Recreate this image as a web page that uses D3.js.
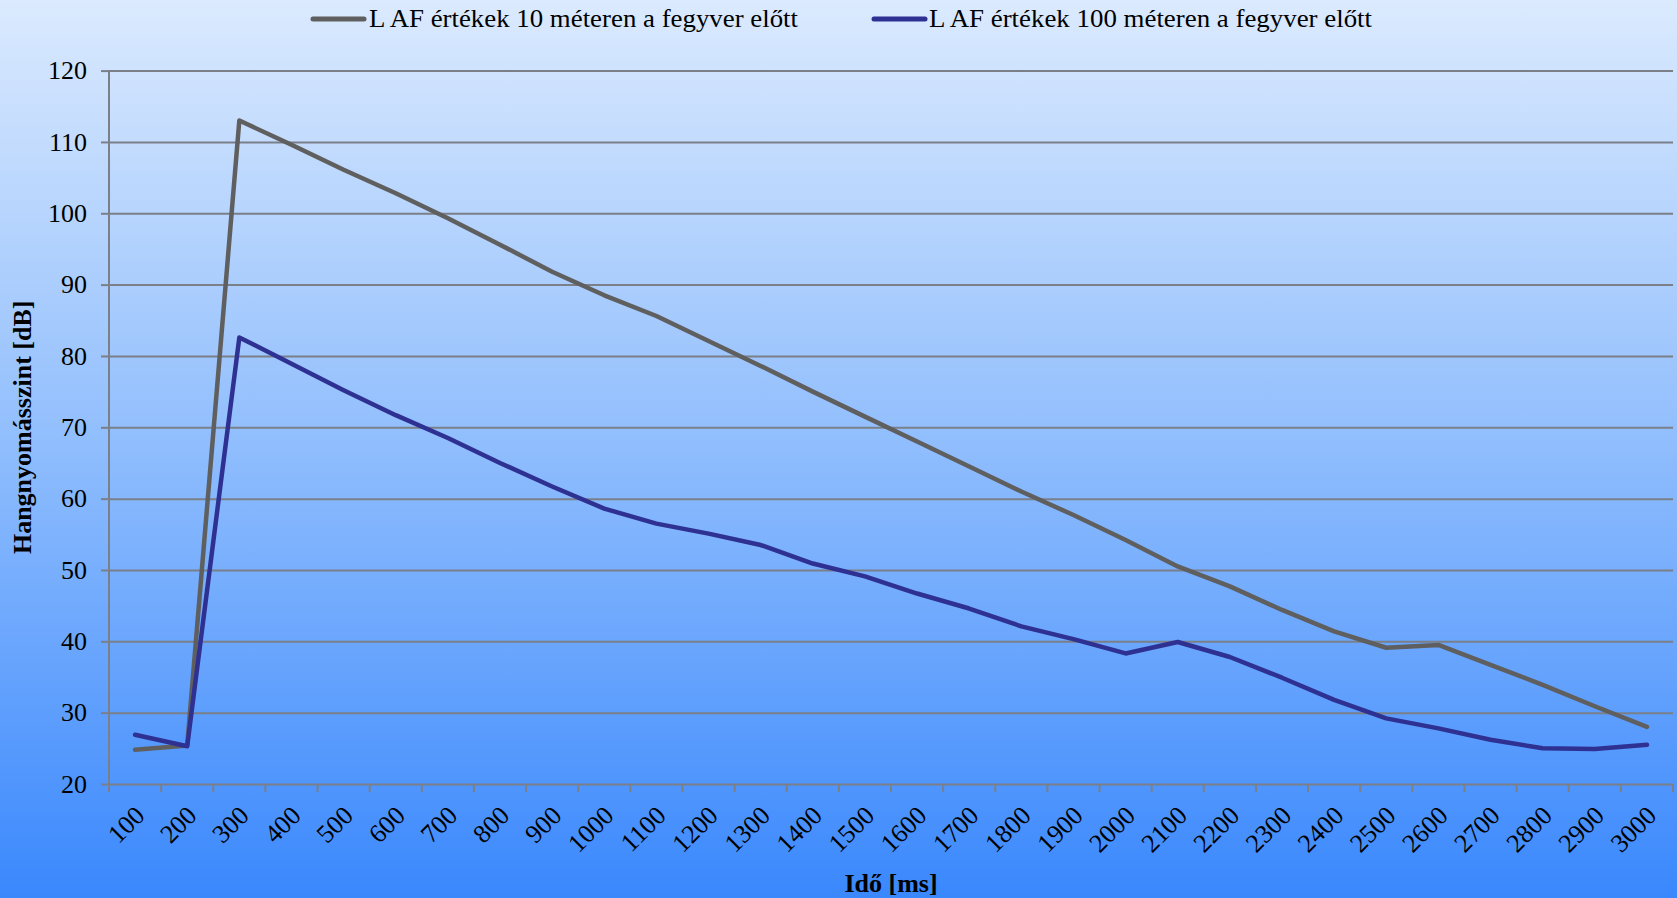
<!DOCTYPE html>
<html>
<head>
<meta charset="utf-8">
<script src="https://cdn.jsdelivr.net/npm/d3@7/dist/d3.min.js"></script>
<style>
  html, body { margin: 0; padding: 0; background: #ffffff; }
  svg { display: block; }
  text { font-family: "Liberation Serif", "DejaVu Serif", serif; fill: #000; }
</style>
</head>
<body>
<svg id="chart" width="1677" height="898"></svg>
<script>
const categories = ["100","200","300","400","500","600","700","800","900","1000",
  "1100","1200","1300","1400","1500","1600","1700","1800","1900","2000",
  "2100","2200","2300","2400","2500","2600","2700","2800","2900","3000"];

const series10m = [24.8, 25.4, 113.0, 109.6, 106.1, 102.8, 99.3, 95.6, 91.8, 88.5,
  85.6, 82.1, 78.6, 75.0, 71.5, 68.0, 64.5, 61.0, 57.7, 54.2,
  50.5, 47.7, 44.4, 41.4, 39.1, 39.5, 36.7, 33.9, 30.9, 28.0];

const series100m = [26.9, 25.3, 82.6, 78.9, 75.2, 71.7, 68.5, 65.0, 61.7, 58.6,
  56.5, 55.1, 53.5, 50.9, 49.1, 46.7, 44.6, 42.1, 40.3, 38.3,
  39.9, 37.8, 34.9, 31.8, 29.2, 27.8, 26.2, 25.0, 24.9, 25.5];

const yTicks = [20, 30, 40, 50, 60, 70, 80, 90, 100, 110, 120];

const seriesNames = ["L AF értékek 10 méteren a fegyver előtt", "L AF értékek 100 méteren a fegyver előtt"];
const seriesColors = ["#5f5f5f", "#2e3192"];
const xTitle = "Idő [ms]";
const yTitle = "Hangnyomásszint [dB]";

const W = 1677, H = 898;
const plot = { left: 109, right: 1673, top: 70.6, bottom: 784 };

const svg = d3.select("#chart");

// background gradient
const defs = svg.append("defs");
const grad = defs.append("linearGradient").attr("id", "bg").attr("x1", 0).attr("y1", 0).attr("x2", 0).attr("y2", 1);
grad.append("stop").attr("offset", "0%").attr("stop-color", "#dbeafe");
grad.append("stop").attr("offset", "50%").attr("stop-color", "#8fbdfd");
grad.append("stop").attr("offset", "100%").attr("stop-color", "#3a88fd");
svg.append("rect").attr("width", W).attr("height", H).attr("fill", "url(#bg)");

const x = d3.scaleBand().domain(categories).range([plot.left, plot.right]).paddingInner(0).paddingOuter(0);
const y = d3.scaleLinear().domain([20, 120]).range([plot.bottom, plot.top]);

const axisColor = "#7a7f88";

// gridlines + y ticks
const yAxis = d3.axisLeft(y).tickValues(yTicks).tickSize(8).tickPadding(14).tickFormat(d3.format("d"));
const gy = svg.append("g").attr("transform", `translate(${plot.left},0)`).call(yAxis);
gy.select(".domain").remove();
gy.selectAll(".tick line").attr("stroke", axisColor).attr("stroke-width", 2);
gy.selectAll(".tick text").attr("font-size", 26).attr("font-family", "Liberation Serif").attr("fill", "#000");

const grid = d3.axisLeft(y).tickValues(yTicks).tickSize(-(plot.right - plot.left)).tickFormat("");
const gg = svg.append("g").attr("transform", `translate(${plot.left},0)`).call(grid);
gg.select(".domain").remove();
gg.selectAll(".tick line").attr("stroke", axisColor).attr("stroke-width", 2);

// y axis line
svg.append("line").attr("x1", plot.left).attr("x2", plot.left)
  .attr("y1", plot.top).attr("y2", plot.bottom + 8)
  .attr("stroke", axisColor).attr("stroke-width", 2);

// x axis boundary ticks
const bounds = categories.map(c => x(c)).concat([x.range()[1]]);
svg.append("g").selectAll("line").data(bounds).join("line")
  .attr("x1", d => d).attr("x2", d => d)
  .attr("y1", plot.bottom).attr("y2", plot.bottom + 8)
  .attr("stroke", axisColor).attr("stroke-width", 2);

// x labels
const xAxis = d3.axisBottom(x).tickSize(0).tickPadding(0);
const gx = svg.append("g").attr("transform", `translate(0,${plot.bottom})`).call(xAxis);
gx.select(".domain").remove();
gx.selectAll(".tick text")
  .attr("font-size", 26).attr("font-family", "Liberation Serif").attr("fill", "#000")
  .attr("text-anchor", "end")
  .attr("dy", null).attr("y", null)
  .attr("transform", "translate(5,27) rotate(-45)")
  .attr("dominant-baseline", "central");

// lines
const line = d3.line().x((d, i) => x(categories[i]) + x.bandwidth() / 2).y(d => y(d)).curve(d3.curveLinear);
[series10m, series100m].forEach((s, k) => {
  svg.append("path").datum(s)
    .attr("d", line)
    .attr("fill", "none")
    .attr("stroke", seriesColors[k])
    .attr("stroke-width", 4.5)
    .attr("stroke-linejoin", "round")
    .attr("stroke-linecap", "round");
});

// legend
const legendItems = [
  { x1: 313, x2: 364, tx: 369, w: 429 },
  { x1: 874, x2: 925, tx: 929, w: 443 }
];
legendItems.forEach((L, k) => {
  svg.append("line").attr("x1", L.x1).attr("x2", L.x2).attr("y1", 19).attr("y2", 19)
    .attr("stroke", seriesColors[k]).attr("stroke-width", 5).attr("stroke-linecap", "round");
  svg.append("text").attr("x", L.tx).attr("y", 27)
    .attr("font-size", 25)
    .attr("textLength", L.w).attr("lengthAdjust", "spacingAndGlyphs")
    .text(seriesNames[k]);
});

// axis titles
svg.append("text").attr("x", (plot.left + plot.right) / 2).attr("y", 892)
  .attr("text-anchor", "middle").attr("font-size", 26).attr("font-weight", "bold")
  .text(xTitle);

svg.append("text")
  .attr("transform", `translate(31,${(plot.top + plot.bottom) / 2}) rotate(-90)`)
  .attr("text-anchor", "middle").attr("font-size", 26).attr("font-weight", "bold")
  .text(yTitle);
</script>
</body>
</html>
